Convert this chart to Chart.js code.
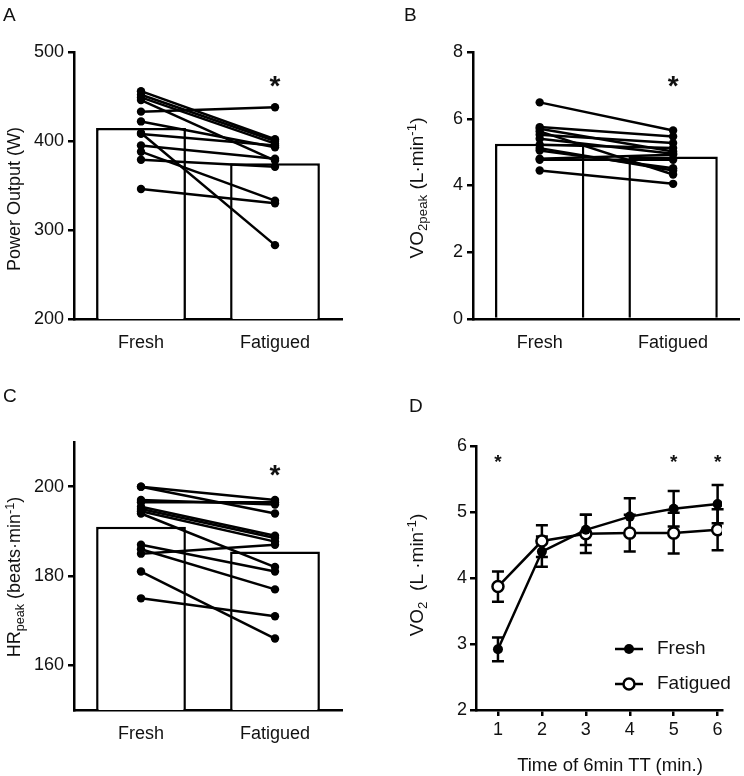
<!DOCTYPE html>
<html>
<head>
<meta charset="utf-8">
<script src="https://cdn.jsdelivr.net/npm/chart.js@4/dist/chart.umd.min.js"></script>
<style>
  body { margin: 0; background: #fff; font-family: "Liberation Sans", Arial, sans-serif; color: #111; }
  #wrap { position: relative; width: 744px; height: 776px; }
  canvas { position: absolute; }
  .panel { position: absolute; font-size: 19px; line-height: 1; }
  .ytitle { position: absolute; white-space: nowrap; font-size: 18px; line-height: 1;
            transform: translate(-50%, -50%) rotate(-90deg); }
  .xtitle { position: absolute; white-space: nowrap; font-size: 18px; line-height: 1;
            transform: translate(-50%, -50%); }
  .sb { font-size: 0.7em; position: relative; top: 0.3em; line-height: 0; }
  .sp { font-size: 0.7em; position: relative; top: -0.5em; line-height: 0; }
</style>
</head>
<body>
<div id="wrap">
  <canvas id="cA" width="372" height="370" style="left:0;top:0"></canvas>
  <canvas id="cB" width="372" height="370" style="left:372px;top:0"></canvas>
  <canvas id="cC" width="372" height="396" style="left:0;top:380px"></canvas>
  <canvas id="cD" width="372" height="396" style="left:372px;top:380px"></canvas>

  <div class="panel" style="left:3px;top:4.5px">A</div>
  <div class="panel" style="left:404px;top:4.5px">B</div>
  <div class="panel" style="left:3px;top:385.5px">C</div>
  <div class="panel" style="left:409px;top:395.5px">D</div>

  <div class="ytitle" style="left:14px;top:199px">Power Output (W)</div>
  <div class="ytitle" style="left:416px;top:188px;font-size:19px">VO<span class="sb">2peak</span> (L·min<span class="sp">-1</span>)</div>
  <div class="ytitle" style="left:14px;top:577px">HR<span class="sb">peak</span> (beats·min<span class="sp">-1</span>)</div>
  <div class="ytitle" style="left:416px;top:575px;font-size:19px">VO<span class="sb">2</span>&nbsp; (L&nbsp;·min<span class="sp">-1</span>)</div>
  <div class="xtitle" style="left:610px;top:765px;font-size:18.5px">Time of 6min TT (min.)</div>
</div>

<script>
const groups = ['Fresh', 'Fatigued'];

// A - power output per subject
const powerFresh    = [456, 452, 449, 446, 433, 422, 409, 408, 395, 388, 379, 346];
const powerFatigued = [402, 400, 397, 378, 438, 393, 283, 395, 380, 333, 371, 330];
const powerMean     = [414.6, 375];
const powerStar     = 470;

// B - VO2peak per subject
const vo2Fresh    = [6.49, 5.75, 5.70, 5.62, 5.52, 5.40, 5.22, 5.12, 5.05, 4.80, 4.77, 4.45];
const vo2Fatigued = [5.65, 5.47, 5.02, 4.33, 5.27, 4.95, 5.12, 4.45, 4.52, 4.92, 4.77, 4.05];
const vo2Mean     = [5.25, 4.87];
const vo2Star     = 7.2;

// C - HRpeak per subject
const hrFresh    = [200, 200, 197, 196.5, 195.5, 195, 194.5, 194, 187, 186, 185, 181, 175];
const hrFatigued = [197, 194, 196, 196.5, 189, 188.5, 187.7, 182, 181, 177, 187, 166, 171];
const hrMean     = [191, 185.5];
const hrTicks    = [160, 180, 200];
const hrStar     = 204.2;

// D - VO2 over the time trial
const minutes          = [1, 2, 3, 4, 5, 6];
const timeFresh        = [2.92, 4.40, 4.73, 4.93, 5.05, 5.12];
const timeFreshSD      = [0.18, 0.23, 0.23, 0.28, 0.27, 0.29];
const timeFatigued     = [3.87, 4.56, 4.67, 4.68, 4.68, 4.73];
const timeFatiguedSD   = [0.23, 0.24, 0.29, 0.28, 0.31, 0.31];
const timeStarMinutes  = [1, 5, 6];
const timeStarLevel    = 5.84;

const FONT = "'Liberation Sans', Arial, sans-serif";
const LW = 2.5;
Chart.defaults.font.family = FONT;
Chart.defaults.color = '#111';
Chart.defaults.animation = false;
Chart.defaults.plugins.legend.display = false;
Chart.defaults.plugins.tooltip.enabled = false;

// asterisks for significance
Chart.register({
  id: 'stars',
  afterDatasetsDraw(chart, args, opts) {
    if (!opts.points) return;
    const { ctx, scales: { x, y } } = chart;
    ctx.save();
    ctx.fillStyle = '#111';
    ctx.font = 'bold ' + opts.size + 'px ' + FONT;
    ctx.textAlign = 'center';
    ctx.textBaseline = 'alphabetic';
    opts.points.forEach(p => {
      ctx.fillText('*', x.getPixelForValue(p.x), y.getPixelForValue(p.y) + opts.size * 0.58);
    });
    ctx.restore();
  }
});

// vertical error bars with caps
Chart.register({
  id: 'errorBars',
  beforeDatasetsDraw(chart, args, opts) {
    if (!opts.sd) return;
    const { ctx, scales: { y } } = chart;
    ctx.save();
    ctx.strokeStyle = '#000';
    ctx.lineWidth = LW;
    opts.sd.forEach((sds, di) => {
      const meta = chart.getDatasetMeta(di);
      const vals = chart.data.datasets[di].data;
      meta.data.forEach((pt, i) => {
        const top = y.getPixelForValue(vals[i].y + sds[i]);
        const bot = y.getPixelForValue(vals[i].y - sds[i]);
        ctx.beginPath();
        ctx.moveTo(pt.x, top); ctx.lineTo(pt.x, bot);
        ctx.moveTo(pt.x - opts.cap, top); ctx.lineTo(pt.x + opts.cap, top);
        ctx.moveTo(pt.x - opts.cap, bot); ctx.lineTo(pt.x + opts.cap, bot);
        ctx.stroke();
      });
    });
    ctx.restore();
  }
});

// legend with line + marker like the original
Chart.register({
  id: 'lineLegend',
  afterDraw(chart, args, opts) {
    if (!opts.show) return;
    const ctx = chart.ctx;
    ctx.save();
    chart.data.datasets.forEach((ds, i) => {
      const yy = opts.y + i * opts.gap;
      ctx.strokeStyle = ds.borderColor;
      ctx.lineWidth = ds.borderWidth;
      ctx.beginPath();
      ctx.moveTo(opts.x - opts.half, yy); ctx.lineTo(opts.x + opts.half, yy);
      ctx.stroke();
      ctx.beginPath();
      ctx.arc(opts.x, yy, ds.pointRadius, 0, Math.PI * 2);
      ctx.fillStyle = ds.pointBackgroundColor;
      ctx.fill();
      if (ds.pointBorderWidth) {
        ctx.lineWidth = ds.pointBorderWidth;
        ctx.strokeStyle = ds.pointBorderColor;
        ctx.stroke();
      }
      ctx.fillStyle = '#111';
      ctx.font = opts.size + 'px ' + FONT;
      ctx.textBaseline = 'middle';
      ctx.fillText(ds.label, opts.x + opts.textGap, yy);
    });
    ctx.restore();
  }
});

const yGrid = { drawOnChartArea: false, tickLength: 6, color: '#000', lineWidth: LW };
const border = { color: '#000', width: LW };

function pairedChart(id, fresh, fatigued, means, yOpts, starY, box) {
  const datasets = [{
    type: 'bar', data: means, backgroundColor: '#fff', borderColor: '#000', borderWidth: LW,
    barPercentage: 0.67, categoryPercentage: 1, order: 2
  }];
  fresh.forEach((v, i) => {
    datasets.push({
      type: 'line', data: [v, fatigued[i]], borderColor: '#000', borderWidth: 2.5,
      pointRadius: 4.2, pointBackgroundColor: '#000', pointBorderWidth: 0, order: 1
    });
  });
  return new Chart(document.getElementById(id), {
    type: 'bar',
    data: { labels: groups, datasets: datasets },
    options: {
      responsive: false,
      layout: { padding: box.pad },
      scales: {
        x: {
          afterFit: s => { s.height = box.xh; },
          grid: { display: false }, border: border,
          ticks: { font: { size: 18 }, padding: 5 }
        },
        y: Object.assign({
          afterFit: s => { s.width = box.yw; },
          grid: yGrid, border: border,
          ticks: { font: { size: 18 }, padding: 4 }
        }, yOpts)
      },
      plugins: { stars: { size: 28, points: [{ x: 1, y: starY }] } }
    }
  });
}

pairedChart('cA', powerFresh, powerFatigued, powerMean,
  { min: 200, max: 500, ticks: { font: { size: 18 }, padding: 4, stepSize: 100 } },
  powerStar, { pad: { left: 0, top: 52, right: 30, bottom: 0 }, xh: 51, yw: 74 });

pairedChart('cB', vo2Fresh, vo2Fatigued, vo2Mean,
  { min: 0, max: 8, ticks: { font: { size: 18 }, padding: 4, stepSize: 2 } },
  vo2Star, { pad: { left: 0, top: 52, right: 2, bottom: 0 }, xh: 51, yw: 101 });

pairedChart('cC', hrFresh, hrFatigued, hrMean,
  { min: 150, max: 210, afterBuildTicks: s => { s.ticks = hrTicks.map(v => ({ value: v })); } },
  hrStar, { pad: { left: 0, top: 62, right: 30, bottom: 0 }, xh: 66, yw: 74 });

new Chart(document.getElementById('cD'), {
  type: 'line',
  data: {
    datasets: [
      {
        label: 'Fresh',
        data: minutes.map((m, i) => ({ x: m, y: timeFresh[i] })),
        borderColor: '#000', borderWidth: LW,
        pointRadius: 5, pointBackgroundColor: '#000', pointBorderWidth: 0
      },
      {
        label: 'Fatigued',
        data: minutes.map((m, i) => ({ x: m, y: timeFatigued[i] })),
        borderColor: '#000', borderWidth: LW,
        pointRadius: 5.5, pointBackgroundColor: '#fff', pointBorderColor: '#000', pointBorderWidth: LW
      }
    ]
  },
  options: {
    responsive: false,
    layout: { padding: { left: 0, top: 66, right: 22, bottom: 0 } },
    scales: {
      x: {
        type: 'linear', min: 0.5, max: 6.1,
        afterBuildTicks: s => { s.ticks = minutes.map(v => ({ value: v })); },
        afterFit: s => { s.height = 66; },
        grid: yGrid, border: border,
        ticks: { font: { size: 18 }, padding: 3 }
      },
      y: {
        min: 2, max: 6,
        afterFit: s => { s.width = 104; },
        grid: yGrid, border: border,
        ticks: { font: { size: 18 }, padding: 3, stepSize: 1 }
      }
    },
    plugins: {
      errorBars: { sd: [timeFreshSD, timeFatiguedSD], cap: 6 },
      stars: { size: 19, points: timeStarMinutes.map(m => ({ x: m, y: timeStarLevel })) },
      lineLegend: { show: true, x: 257, y: 269, gap: 35, half: 14, textGap: 28, size: 19 }
    }
  }
});
</script>
</body>
</html>
